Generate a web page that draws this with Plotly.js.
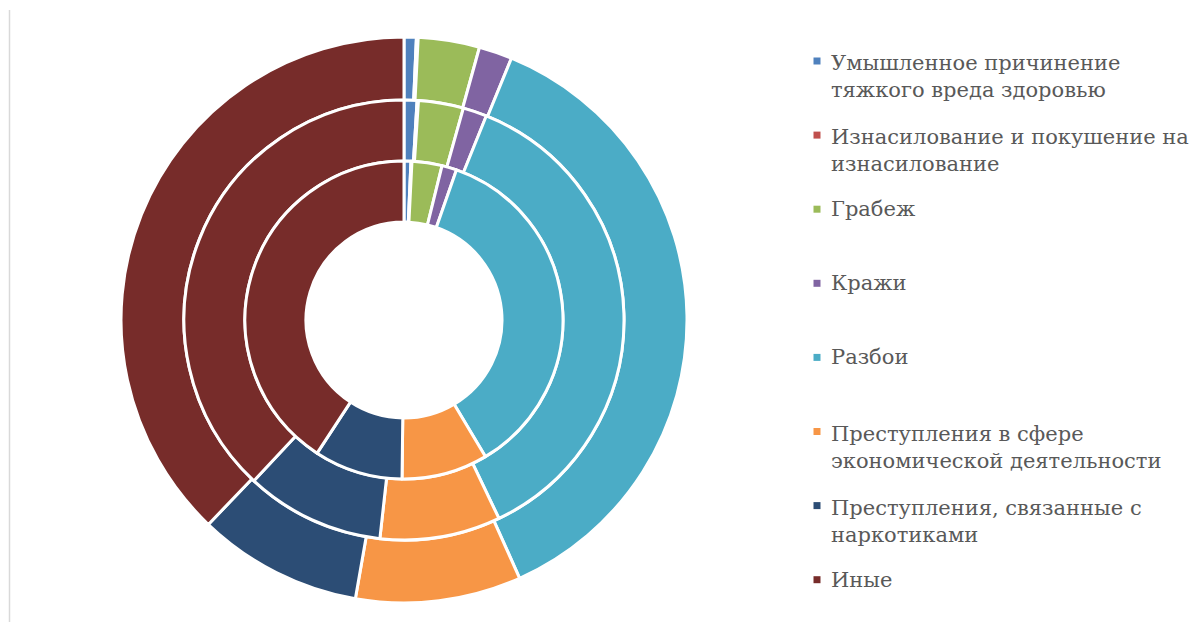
<!DOCTYPE html>
<html>
<head>
<meta charset="utf-8">
<script src="https://cdn.plot.ly/plotly-3.0.1.min.js"></script>
<style>
  html, body { margin: 0; padding: 0; background: #ffffff; }
  #chart { width: 1200px; height: 622px; }
</style>
</head>
<body>
<div id="chart"></div>
<script>
// categories (legend order)
var labels = [
	"Умышленное причинение<br>тяжкого вреда здоровью",
	"Изнасилование и покушение на<br>изнасилование",
	"Грабеж",
	"Кражи",
	"Разбои",
	"Преступления в сфере<br>экономической деятельности",
	"Преступления, связанные с<br>наркотиками",
	"Иные"
];

// shares, %
var innerRing  = [0.7, 0.1, 3.05, 1.5, 36.1, 8.75, 9.0, 40.8];
var middleRing = [0.95, 0.1, 3.3, 1.75, 36.8, 8.85, 10.2, 38.05];
var outerRing  = [0.7, 0.1, 3.5, 1.9, 37.1, 9.45, 9.4, 37.85];

var colors = ["#4F81BD", "#C0504D", "#9BBB59", "#8064A2", "#4BACC6", "#F79646", "#2C4D75", "#772C2A"];

var W = 1200, H = 622;
var cx = 404, cy = 320;

// domain for a ring of radius r around (cx, cy)
function dom(r) {
	return {
		x: [(cx - r) / W, (cx + r) / W],
		y: [(H - cy - r) / H, (H - cy + r) / H]
	};
}

function ring(vals, rOut, rIn) {
	return {
		type: "pie",
		values: vals,
		labels: labels,
		sort: false,
		direction: "clockwise",
		rotation: 0,
		hole: rIn / rOut,
		domain: dom(rOut),
		textinfo: "none",
		hoverinfo: "label+value",
		showlegend: false,
		marker: {
			colors: colors,
			line: { color: "#ffffff", width: 3 }
		}
	};
}

var data = [
	ring(outerRing, 283, 220),
	ring(middleRing, 220, 159),
	ring(innerRing, 159, 98)
];

// legend drawn by hand: Excel spaces entries evenly
var shapes = [{
	type: "line", xref: "paper", yref: "paper",
	x0: 9.5 / W, x1: 9.5 / W, y0: 0, y1: 1 - 10 / H,
	line: { color: "#d9d9d9", width: 1.5 }
}];
var annotations = [];
var legTop = 61, legStep = 74.1, lineH = 31.2;
var legFont = { family: "DejaVu Serif", size: 21, color: "#595959" };

for (var i = 0; i < labels.length; i++) {
	var my = legTop + legStep * i;
	var nLines = labels[i].split("<br>").length;
	shapes.push({
		type: "rect", xref: "paper", yref: "paper",
		x0: 813.5 / W, x1: 820.5 / W,
		y0: 1 - (my + 3.5) / H, y1: 1 - (my - 3.5) / H,
		fillcolor: colors[i], line: { width: 0 }
	});
	annotations.push({
		xref: "paper", yref: "paper",
		x: 829 / W, y: 1 - (my + (nLines - 1) * lineH / 2) / H,
		xanchor: "left", yanchor: "middle",
		align: "left",
		showarrow: false,
		text: labels[i],
		font: legFont
	});
}

var layout = {
	width: W,
	height: H,
	margin: { l: 0, r: 0, t: 0, b: 0 },
	paper_bgcolor: "#ffffff",
	font: legFont,
	showlegend: false,
	shapes: shapes,
	annotations: annotations
};

Plotly.newPlot("chart", data, layout, { displayModeBar: false });
</script>
</body>
</html>
